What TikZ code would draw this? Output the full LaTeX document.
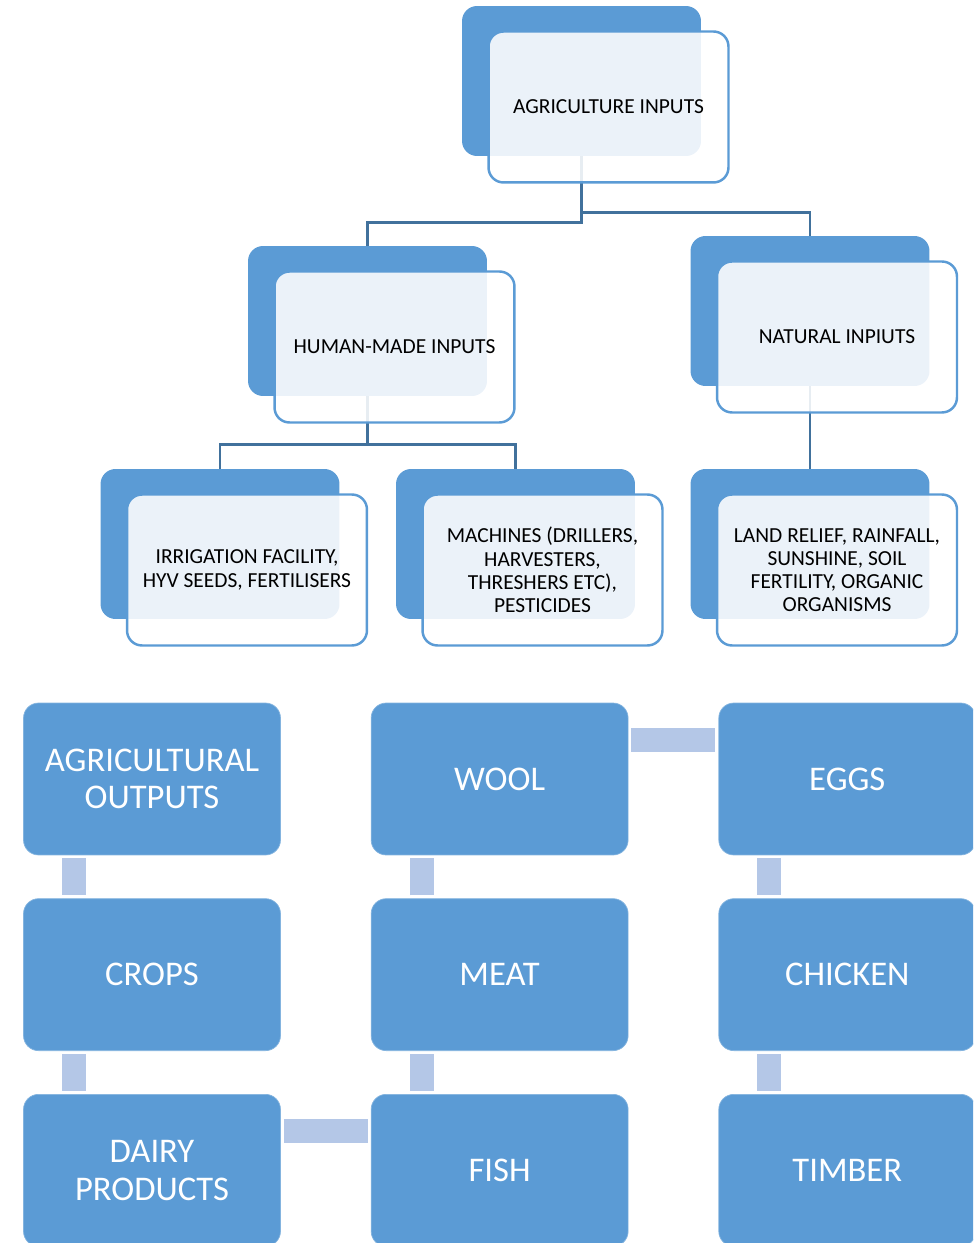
\documentclass[tikz,border=0pt]{standalone}
\usepackage{fontspec}
\setmainfont{Carlito}
\usepackage{tikz}
\usetikzlibrary{positioning, shapes}
\definecolor{boxblue}{HTML}{5B9BD5}
\definecolor{barblue}{HTML}{B4C7E7}
\definecolor{lineblue}{HTML}{41719C}
\tikzstyle{backbox} = [rectangle, rounded corners=0.3cm, minimum width=4.78cm, minimum height=3cm, fill=boxblue]
\tikzstyle{frontbox} = [rectangle, rounded corners=0.3cm, minimum width=4.8cm, minimum height=3.02cm, align=center, draw=boxblue, line width=1.4pt, fill=white, fill opacity=0.88, text opacity=1, font=\fontsize{12.2}{13.2}\selectfont]
\tikzstyle{outbox} = [rectangle, rounded corners=0.3cm, minimum width=5.14cm, minimum height=3.04cm, align=center, fill=boxblue, draw=boxblue!75!white, text=white, font=\fontsize{19.7}{21.5}\selectfont]
\tikzstyle{tree} = [lineblue, line width=1.5pt]
\tikzstyle{link} = [barblue, line width=0.48cm, shorten >=0.06cm, shorten <=0.06cm]

\begin{document}
\begin{tikzpicture}[x=0.02cm, y=-0.02cm, node distance=0.86cm and 1.8cm]
        \clip (0,0) rectangle (973,1243);

        % inputs
        \node (agri) [backbox] at (581.5,81) {};
        \node (human) [backbox] at (367.5,321) {};
        \node (natural) [backbox] at (810,311) {};
        \node (irrig) [backbox] at (220,544) {};
        \node (machines) [backbox] at (515.5,544) {};
        \node (land) [backbox] at (810,544) {};

        \draw [tree] (agri.south) -- ++(0,-1.32cm) -| (human.north);
        \draw [tree] (agri.south) -- ++(0,-1.12cm) -| (natural.north);
        \draw [tree] (human.south) -- ++(0,-0.96cm) -| (irrig.north);
        \draw [tree] (human.south) -- ++(0,-0.96cm) -| (machines.north);
        \draw [tree] (natural.south) -- (land.north);

        \node (agrit) [frontbox, xshift=0.54cm, yshift=-0.52cm] at (agri) {AGRICULTURE INPUTS};
        \node (humant) [frontbox, xshift=0.54cm, yshift=-0.52cm] at (human) {HUMAN-MADE INPUTS};
        \node (naturalt) [frontbox, xshift=0.54cm, yshift=-0.52cm] at (natural) {NATURAL INPIUTS};
        \node (irrigt) [frontbox, xshift=0.54cm, yshift=-0.52cm] at (irrig) {IRRIGATION FACILITY,\\HYV SEEDS, FERTILISERS};
        \node (machinest) [frontbox, xshift=0.54cm, yshift=-0.52cm] at (machines) {MACHINES (DRILLERS,\\HARVESTERS,\\THRESHERS ETC),\\PESTICIDES};
        \node (landt) [frontbox, xshift=0.54cm, yshift=-0.52cm] at (land) {LAND RELIEF, RAINFALL,\\SUNSHINE, SOIL\\FERTILITY, ORGANIC\\ORGANISMS};

        % outputs
        \node (outputs) [outbox] at (152,779) {AGRICULTURAL\\OUTPUTS};
        \node (crops) [outbox, below=of outputs] {CROPS};
        \node (dairy) [outbox, below=of crops] {DAIRY\\PRODUCTS};
        \node (wool) [outbox, right=of outputs] {WOOL};
        \node (meat) [outbox, below=of wool] {MEAT};
        \node (fish) [outbox, below=of meat] {FISH};
        \node (eggs) [outbox, right=of wool] {EGGS};
        \node (chicken) [outbox, below=of eggs] {CHICKEN};
        \node (timber) [outbox, below=of chicken] {TIMBER};

        \draw [link] ([xshift=-1.56cm]outputs.south) -- ([xshift=-1.56cm]crops.north);
        \draw [link] ([xshift=-1.56cm]crops.south) -- ([xshift=-1.56cm]dairy.north);
        \draw [link] ([yshift=0.78cm]dairy.east) -- ([yshift=0.78cm]fish.west);
        \draw [link] ([xshift=-1.56cm]fish.north) -- ([xshift=-1.56cm]meat.south);
        \draw [link] ([xshift=-1.56cm]meat.north) -- ([xshift=-1.56cm]wool.south);
        \draw [link] ([yshift=0.78cm]wool.east) -- ([yshift=0.78cm]eggs.west);
        \draw [link] ([xshift=-1.56cm]eggs.south) -- ([xshift=-1.56cm]chicken.north);
        \draw [link] ([xshift=-1.56cm]chicken.south) -- ([xshift=-1.56cm]timber.north);

        \end{tikzpicture}
\end{document}
